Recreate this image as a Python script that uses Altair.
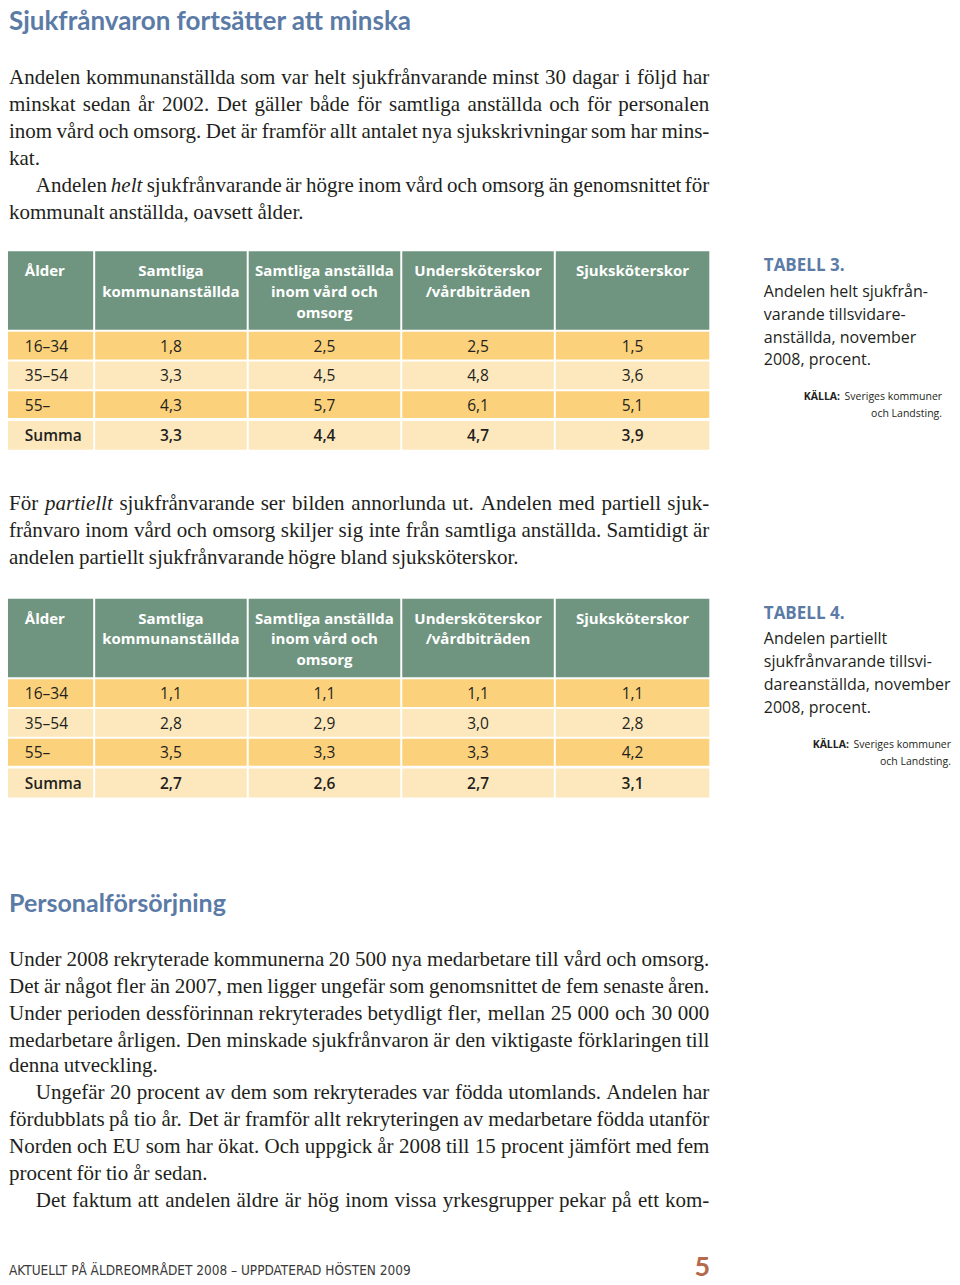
import altair as alt
import pandas as pd

# ---------------- data (text content and table values) ----------------
title_1 = "Sjukfrånvaron fortsätter att minska"
title_2 = "Personalförsörjning"

# paragraphs: words wrapped in *...* are italic
para_1a = [
    "Andelen kommunanställda som var helt sjukfrånvarande minst 30 dagar i följd har",
    "minskat sedan år 2002. Det gäller både för samtliga anställda och för personalen",
    "inom vård och omsorg. Det är framför allt antalet nya sjukskrivningar som har mins-",
    "kat.",
]
para_1b = [
    "Andelen *helt* sjukfrånvarande är högre inom vård och omsorg än genomsnittet för",
    "kommunalt anställda, oavsett ålder.",
]
para_2 = [
    "För *partiellt* sjukfrånvarande ser bilden annorlunda ut. Andelen med partiell sjuk-",
    "frånvaro inom vård och omsorg skiljer sig inte från samtliga anställda. Samtidigt är",
    "andelen partiellt sjukfrånvarande högre bland sjuksköterskor.",
]
para_3a = [
    "Under 2008 rekryterade kommunerna 20 500 nya medarbetare till vård och omsorg.",
    "Det är något fler än 2007, men ligger ungefär som genomsnittet de fem senaste åren.",
    "Under perioden dessförinnan rekryterades betydligt fler, mellan 25 000 och 30 000",
    "medarbetare årligen. Den minskade sjukfrånvaron är den viktigaste förklaringen till",
    "denna utveckling.",
]
para_3b = [
    "Ungefär 20 procent av dem som rekryterades var födda utomlands. Andelen har",
    "fördubblats på tio år. Det är framför allt rekryteringen av medarbetare födda utanför",
    "Norden och EU som har ökat. Och uppgick år 2008 till 15 procent jämfört med fem",
    "procent för tio år sedan.",
]
para_3c = [
    "Det faktum att andelen äldre är hög inom vissa yrkesgrupper pekar på ett kom-",
]

ages = ["16–34", "35–54", "55–", "Summa"]
header_lines = [
    ["Ålder"],
    ["Samtliga", "kommunanställda"],
    ["Samtliga anställda", "inom vård och", "omsorg"],
    ["Undersköterskor", "/vårdbiträden"],
    ["Sjuksköterskor"],
]

t3_samtliga = [1.8, 3.3, 4.3, 3.3]
t3_vard = [2.5, 4.5, 5.7, 4.4]
t3_usk = [2.5, 4.8, 6.1, 4.7]
t3_ssk = [1.5, 3.6, 5.1, 3.9]

t4_samtliga = [1.1, 2.8, 3.5, 2.7]
t4_vard = [1.1, 2.9, 3.3, 2.6]
t4_usk = [1.1, 3.0, 3.3, 2.7]
t4_ssk = [1.1, 2.8, 4.2, 3.1]

cap_3_label = "TABELL 3."
cap_3 = ["Andelen helt sjukfrån-", "varande tillsvidare-", "anställda, november", "2008, procent."]
cap_4_label = "TABELL 4."
cap_4 = ["Andelen partiellt", "sjukfrånvarande tillsvi-", "dareanställda, november", "2008, procent."]
source_label = "KÄLLA:"
source_lines = ["Sveriges kommuner", "och Landsting."]

footer_text = "AKTUELLT PÅ ÄLDREOMRÅDET 2008 – UPPDATERAD HÖSTEN 2009"
page_number = "5"

# ---------------- layout & style ----------------
W, H = 944, 1269
# page coordinates (as in the reference image) mapped onto the drawable area
SX = alt.Scale(domain=[4, 957], nice=False, zero=False)
SY = alt.Scale(domain=[3, 1281], nice=False, zero=False, reverse=True)

BLUE = "#5b7ba6"
GREEN = "#6f9580"
ORANGE = "#fcd17b"
LIGHT = "#fde8bd"
INK = "#231f20"
PAGE = "#b5694d"

SERIF = "Liberation Serif"
SANS = "Open Sans"
BODY_SIZE = 21
TEXT_LEFT, TEXT_RIGHT, INDENT = 5, 712, 32

COL_EDGES = [(4, 90), (92, 245), (247, 400), (402, 555), (557, 712)]
HEADER_SPAN = (0, 79)
ROW_SPANS = [(81, 109), (111, 139), (141, 168), (171, 200)]
HEADER_BASE = [25, 46, 67]
CAP_X = 767
CAP_LABEL_BASE = 20
CAP_BASE = [46, 69, 92, 115]
SRC_BASE = [150, 167]

# approximate advance widths (1/1000 em) of Liberation Serif, used for justification
_W = {" ": 250, "a": 444, "b": 500, "c": 444, "d": 500, "e": 444, "f": 333, "g": 500, "h": 500,
      "i": 278, "j": 278, "k": 500, "l": 278, "m": 778, "n": 500, "o": 500, "p": 500, "q": 500,
      "r": 333, "s": 389, "t": 278, "u": 500, "v": 500, "w": 722, "x": 500, "y": 500, "z": 444,
      "å": 444, "ä": 444, "ö": 500, "A": 722, "B": 667, "C": 667, "D": 722, "E": 611, "F": 556,
      "G": 722, "H": 722, "I": 333, "J": 389, "K": 722, "L": 611, "M": 889, "N": 722, "O": 722,
      "P": 556, "Q": 722, "R": 667, "S": 556, "T": 611, "U": 722, "V": 722, "W": 944, "X": 722,
      "Y": 722, "Z": 611, "Å": 722, "Ä": 722, "Ö": 722, ".": 250, ",": 250, "-": 333, ":": 278}
_WI = dict(_W, a=500, f=278, k=444, m=722, r=389, v=444, w=667, y=444, z=389)


def word_width(w, italic):
    tab = _WI if italic else _W
    return sum(tab.get(ch, 500) for ch in w) * BODY_SIZE / 1000


def txt(rows, **kw):
    df = pd.DataFrame(rows, columns=["x", "y", "t"])
    return alt.Chart(df).mark_text(**kw).encode(
        x=alt.X("x:Q", scale=SX, axis=None),
        y=alt.Y("y:Q", scale=SY, axis=None),
        text="t:N",
    )


def fmt(v):
    return f"{v:.1f}".replace(".", ",")


body = dict(font=SERIF, fontSize=BODY_SIZE, color=INK, baseline="alphabetic")

reg_left, reg_right, ital_left = [], [], []


def set_paragraph(lines, baselines, last_justified=False):
    for i, (line, y) in enumerate(zip(lines, baselines)):
        x0 = INDENT if i == 0 else TEXT_LEFT
        words = [(w.strip("*"), w.startswith("*")) for w in line.split(" ")]
        justify = (i < len(lines) - 1) or last_justified
        if not justify:
            x = x0
            for w, it in words:
                (ital_left if it else reg_left).append((x, y, w))
                x += word_width(w, it) + BODY_SIZE * 0.25
            continue
        widths = [word_width(w, it) for w, it in words]
        gap = (TEXT_RIGHT - x0 - sum(widths)) / (len(words) - 1)
        x = x0
        for k, ((w, it), wd) in enumerate(zip(words, widths)):
            if k == len(words) - 1:
                reg_right.append((TEXT_RIGHT, y, w))
            else:
                (ital_left if it else reg_left).append((x, y, w))
            x += wd + gap


# paragraph 1 (first paragraph after heading has no indent)
p1_base = [80, 107, 134, 161, 188, 215]
set_paragraph(para_1a, p1_base[:4])
reg_left[:] = [(TEXT_LEFT, y, w) if False else (x, y, w) for (x, y, w) in reg_left]
# undo indent of very first line
first = [r for r in reg_left if r[1] == p1_base[0]]
reg_left[:] = [r for r in reg_left if r[1] != p1_base[0]]
reg_left.extend([(x - (INDENT - TEXT_LEFT), y, w) for (x, y, w) in first])
# re-justify first line from the left margin
reg_right[:] = [r for r in reg_right if r[1] != p1_base[0]]
reg_left[:] = [r for r in reg_left if r[1] != p1_base[0]]
_words = para_1a[0].split(" ")
_wd = [word_width(w, False) for w in _words]
_gap = (TEXT_RIGHT - TEXT_LEFT - sum(_wd)) / (len(_words) - 1)
_x = TEXT_LEFT
for k, (w, wd) in enumerate(zip(_words, _wd)):
    if k == len(_words) - 1:
        reg_right.append((TEXT_RIGHT, p1_base[0], w))
    else:
        reg_left.append((_x, p1_base[0], w))
    _x += wd + _gap

set_paragraph(para_1b, p1_base[4:])

# paragraph 2 (after table: no indent on its first line)
p2_base = [509, 536, 563]


def set_block(lines, baselines, indent_first, last_justified=False):
    global INDENT
    saved = INDENT
    if not indent_first:
        INDENT = TEXT_LEFT
    set_paragraph(lines, baselines, last_justified)
    INDENT = saved


set_block(para_2, p2_base, False)

p3_base = [968, 995, 1022, 1049, 1075, 1102, 1129, 1156, 1183, 1210]
set_block(para_3a, p3_base[0:5], False)
set_block(para_3b, p3_base[5:9], True)
set_block(para_3c, p3_base[9:10], True, last_justified=True)

layers = []

# headings
layers.append(txt([(5, 25, title_1)], font="Lato", fontSize=26, fontWeight="bold", color=BLUE,
                  align="left", baseline="alphabetic"))
layers.append(txt([(5, 913, title_2)], font="Lato", fontSize=25, fontWeight="bold", color=BLUE,
                  align="left", baseline="alphabetic"))

layers.append(txt(reg_left, align="left", **body))
layers.append(txt(reg_right, align="right", **body))
layers.append(txt(ital_left, align="left", fontStyle="italic", **body))


def table(top, cols):
    rect_rows = []
    for (x0, x1) in COL_EDGES:
        rect_rows.append((x0, x1, top + HEADER_SPAN[0], top + HEADER_SPAN[1], GREEN))
        for r, (y0, y1) in enumerate(ROW_SPANS):
            rect_rows.append((x0, x1, top + y0, top + y1, ORANGE if r % 2 == 0 else LIGHT))
    rdf = pd.DataFrame(rect_rows, columns=["x", "x2", "y", "y2", "c"])
    out = [alt.Chart(rdf).mark_rect().encode(
        x=alt.X("x:Q", scale=SX, axis=None), x2="x2:Q",
        y=alt.Y("y:Q", scale=SY, axis=None), y2="y2:Q",
        color=alt.Color("c:N", scale=None))]

    head = dict(font=SANS, fontSize=15, fontWeight="bold", color="white", baseline="alphabetic")
    out.append(txt([(21, top + HEADER_BASE[0], header_lines[0][0])], align="left", **head))
    hrows = []
    for ci in range(1, 5):
        cx = (COL_EDGES[ci][0] + COL_EDGES[ci][1]) / 2
        for li, line in enumerate(header_lines[ci]):
            hrows.append((cx, top + HEADER_BASE[li], line))
    out.append(txt(hrows, align="center", **head))

    cell = dict(font=SANS, fontSize=15.5, color=INK, baseline="middle")
    left_reg, cen_reg, left_b, cen_b = [], [], [], []
    for r, (y0, y1) in enumerate(ROW_SPANS):
        cy = top + (y0 + y1) / 2 + 1
        bold = ages[r] == "Summa"
        (left_b if bold else left_reg).append((21, cy, ages[r]))
        for ci, vals in enumerate(cols, start=1):
            cx = (COL_EDGES[ci][0] + COL_EDGES[ci][1]) / 2
            (cen_b if bold else cen_reg).append((cx, cy, fmt(vals[r])))
    out.append(txt(left_reg, align="left", **cell))
    out.append(txt(cen_reg, align="center", **cell))
    out.append(txt(left_b, align="left", fontWeight=600, **cell))
    out.append(txt(cen_b, align="center", fontWeight=600, **cell))
    return out


def caption(top, label, lines, src_right, src_label_right):
    out = [txt([(CAP_X, top + CAP_LABEL_BASE, label)], font=SANS, fontSize=17, fontWeight="bold",
               color=BLUE, align="left", baseline="alphabetic")]
    out.append(txt([(CAP_X, top + b, t) for b, t in zip(CAP_BASE, lines)], font=SANS, fontSize=16,
                   color=INK, align="left", baseline="alphabetic"))
    out.append(txt([(src_label_right, top + SRC_BASE[0], source_label)], font=SANS, fontSize=10.5,
                   fontWeight="bold", color=INK, align="right", baseline="alphabetic"))
    out.append(txt([(src_right, top + b, t) for b, t in zip(SRC_BASE, source_lines)], font=SANS,
                   fontSize=10.5, color=INK, align="right", baseline="alphabetic"))
    return out


layers += table(248, [t3_samtliga, t3_vard, t3_usk, t3_ssk])
layers += caption(248, cap_3_label, cap_3, 947, 844)
layers += table(598, [t4_samtliga, t4_vard, t4_usk, t4_ssk])
layers += caption(598, cap_4_label, cap_4, 956, 853)

# footer
layers.append(txt([(5, 1279, footer_text)], font="Liberation Sans Narrow, DejaVu Sans Condensed, sans-serif",
                  fontSize=13.5, color="#3a3a3a", align="left", baseline="alphabetic"))
layers.append(txt([(697, 1280, page_number)], font="Lato", fontSize=27, fontWeight="bold",
                  color=PAGE, align="left", baseline="alphabetic"))

chart = alt.layer(*layers).properties(
    width=W, height=H, padding=0, autosize="none", background="white"
).configure_view(stroke=None)

chart.save("out.html", embed_options={"renderer": "svg", "actions": False})
